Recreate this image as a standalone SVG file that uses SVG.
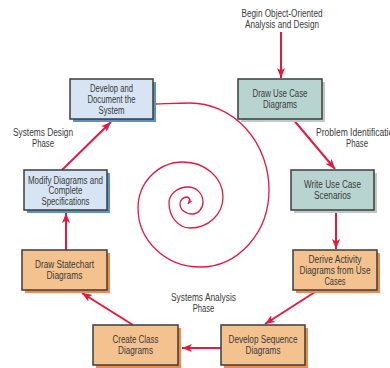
<svg xmlns="http://www.w3.org/2000/svg" width="390" height="368" viewBox="0 0 390 368">
<defs>
<marker id="ah" markerUnits="userSpaceOnUse" markerWidth="11" markerHeight="8" refX="10" refY="4" orient="auto">
<path d="M0,0 L10,4 L0,8 L2.5,4 z" fill="#e3193f"/>
</marker>
<marker id="ahs" markerUnits="userSpaceOnUse" markerWidth="5" markerHeight="4" refX="4.5" refY="2" orient="auto">
<path d="M0,0 L4.5,2 L0,4 L1,2 z" fill="#e3193f"/>
</marker>
<style>
text{font-family:"Liberation Sans",Arial,sans-serif;font-size:10px;fill:#3a3a3a;text-anchor:middle}
.box{stroke:#3d3d3d;stroke-width:1.5}
.blue{fill:#d6e4f3}.teal{fill:#b8d4d0}.orange{fill:#f3c28e}
.sblue{fill:#5b90c8}.steal{fill:#bfcac6}.sorange{fill:#f0894e}
.con{stroke:#e3193f;stroke-width:2;fill:none;marker-end:url(#ah)}
.spiral{stroke:#e3193f;stroke-width:1.3;fill:none;marker-end:url(#ahs)}
</style>
</defs>
<rect width="390" height="368" fill="#ffffff"/>

<g id="labels">
<text x="282" y="17" textLength="81" lengthAdjust="spacingAndGlyphs">Begin Object-Oriented</text>
<text x="282" y="28" textLength="74" lengthAdjust="spacingAndGlyphs">Analysis and Design</text>
<text x="43" y="135.5" textLength="60" lengthAdjust="spacingAndGlyphs">Systems Design</text>
<text x="43" y="146.5" textLength="22" lengthAdjust="spacingAndGlyphs">Phase</text>
<text x="357" y="135.5" textLength="82" lengthAdjust="spacingAndGlyphs">Problem Identification</text>
<text x="357" y="146.5" textLength="22" lengthAdjust="spacingAndGlyphs">Phase</text>
<text x="203.5" y="300.5" textLength="65" lengthAdjust="spacingAndGlyphs">Systems Analysis</text>
<text x="203.5" y="311.5" textLength="21.5" lengthAdjust="spacingAndGlyphs">Phase</text>
</g>

<g id="connectors">
<line class="con" x1="281" y1="32" x2="281" y2="78"/>
<line class="con" x1="292" y1="118" x2="335" y2="169"/>
<line class="con" x1="336" y1="211" x2="336" y2="249"/>
<line class="con" x1="315" y1="292" x2="265" y2="324"/>
<line class="con" x1="221" y1="348" x2="182" y2="348"/>
<line class="con" x1="133" y1="325" x2="82" y2="293"/>
<line class="con" x1="66" y1="250" x2="66" y2="213"/>
<line class="con" x1="62" y1="170" x2="111" y2="122"/>
<path class="spiral" d="M156,104 C170,103.5 180,103 190,103 A79,87 0 0 1 269,190 A69,77 0 0 1 200,267 A62,59 0 0 1 138,208 A45,46 0 0 1 183,162 A40,35 0 0 1 223,197 A33,31 0 0 1 190,228 A21,25 0 0 1 169,203 A19,16 0 0 1 188,187 A15,15 0 0 1 203,202 A11,12 0 0 1 192,214 A12,10 0 0 1 180,204 A7,7 0 0 1 187,197 A4,4 0 0 1 190,201 L188,204"/>
</g>

<g id="n-develop">
<rect class="sblue" x="73" y="82" width="83" height="40"/>
<rect class="box blue" x="70" y="79" width="83" height="40"/>
<text x="111.5" y="92" textLength="43" lengthAdjust="spacingAndGlyphs">Develop and</text>
<text x="111.5" y="103" textLength="48" lengthAdjust="spacingAndGlyphs">Document the</text>
<text x="111.5" y="113.5" textLength="26" lengthAdjust="spacingAndGlyphs">System</text>
</g>

<g id="n-usecase">
<rect class="steal" x="241" y="82" width="84" height="40"/>
<rect class="box teal" x="238" y="79" width="84" height="40"/>
<text x="280" y="96.5" textLength="55" lengthAdjust="spacingAndGlyphs">Draw Use Case</text>
<text x="280" y="107.5" textLength="34" lengthAdjust="spacingAndGlyphs">Diagrams</text>
</g>

<g id="n-modify">
<rect class="sblue" x="27" y="173" width="83" height="40"/>
<rect class="box blue" x="24" y="170" width="83" height="40"/>
<text x="65.5" y="183.5" textLength="75" lengthAdjust="spacingAndGlyphs">Modify Diagrams and</text>
<text x="65.5" y="194" textLength="34" lengthAdjust="spacingAndGlyphs">Complete</text>
<text x="65.5" y="204.5" textLength="48" lengthAdjust="spacingAndGlyphs">Specifications</text>
</g>

<g id="n-scenarios">
<rect class="steal" x="294" y="173" width="83" height="40"/>
<rect class="box teal" x="291" y="170" width="83" height="40"/>
<text x="332.5" y="188" textLength="57" lengthAdjust="spacingAndGlyphs">Write Use Case</text>
<text x="332.5" y="199" textLength="37" lengthAdjust="spacingAndGlyphs">Scenarios</text>
</g>

<g id="n-statechart">
<rect class="sorange" x="25" y="253" width="85" height="40"/>
<rect class="box orange" x="22" y="250" width="85" height="40"/>
<text x="64.5" y="267.5" textLength="59" lengthAdjust="spacingAndGlyphs">Draw Statechart</text>
<text x="64.5" y="278.5" textLength="36" lengthAdjust="spacingAndGlyphs">Diagrams</text>
</g>

<g id="n-activity">
<rect class="sorange" x="296" y="253" width="84" height="40"/>
<rect class="box orange" x="293" y="250" width="84" height="40"/>
<text x="335" y="262.5" textLength="53" lengthAdjust="spacingAndGlyphs">Derive Activity</text>
<text x="335" y="273.5" textLength="71" lengthAdjust="spacingAndGlyphs">Diagrams from Use</text>
<text x="335" y="284.5" textLength="21" lengthAdjust="spacingAndGlyphs">Cases</text>
</g>

<g id="n-class">
<rect class="sorange" x="96" y="328" width="85" height="40"/>
<rect class="box orange" x="93" y="325" width="85" height="40"/>
<text x="135.5" y="342.5" textLength="46" lengthAdjust="spacingAndGlyphs">Create Class</text>
<text x="135.5" y="353.5" textLength="35" lengthAdjust="spacingAndGlyphs">Diagrams</text>
</g>

<g id="n-sequence">
<rect class="sorange" x="224" y="328" width="84" height="40"/>
<rect class="box orange" x="221" y="325" width="84" height="40"/>
<text x="263" y="342.5" textLength="69" lengthAdjust="spacingAndGlyphs">Develop Sequence</text>
<text x="263" y="353.5" textLength="35" lengthAdjust="spacingAndGlyphs">Diagrams</text>
</g>
</svg>
